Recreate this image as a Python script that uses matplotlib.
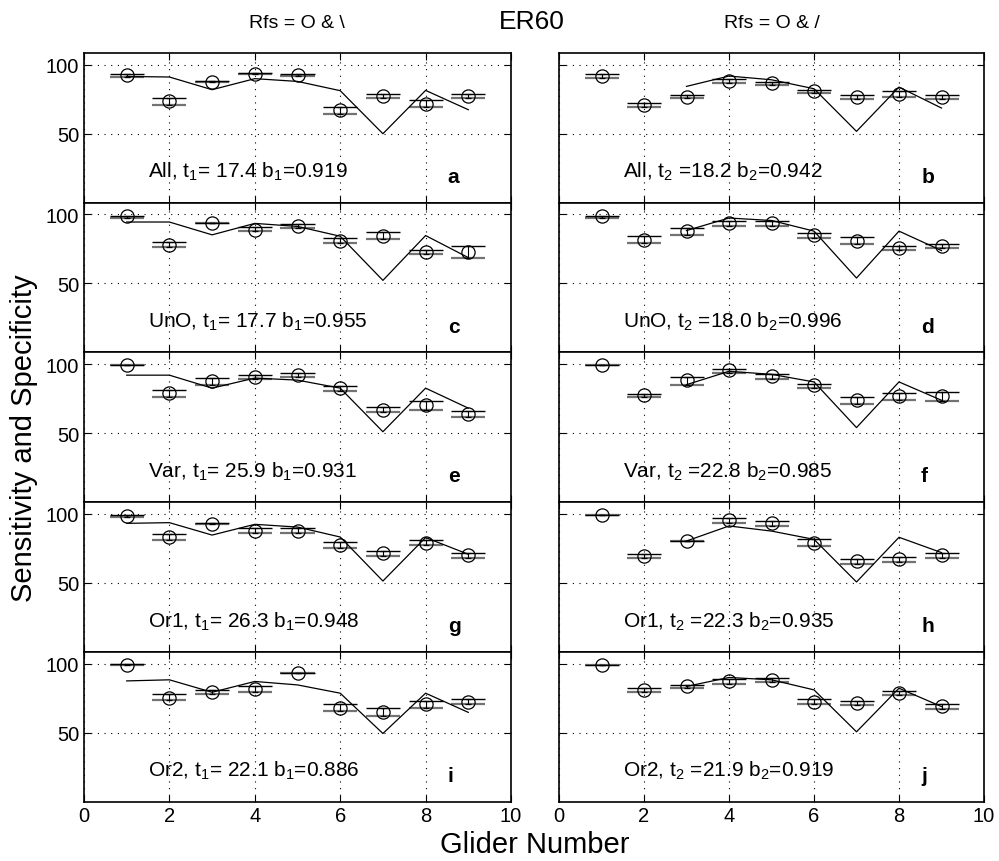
import numpy as np
import matplotlib
matplotlib.use('Agg')
import matplotlib.pyplot as plt

plt.rcParams['font.family'] = ['Liberation Sans', 'DejaVu Sans']
plt.rcParams['mathtext.default'] = 'regular'

gliders = np.arange(1, 10)

# rows: All, UnO, Var, Or1, Or2
names = ['All', 'UnO', 'Var', 'Or1', 'Or2']
t1 = [17.4, 17.7, 25.9, 26.3, 22.1]
b1 = [0.919, 0.955, 0.931, 0.948, 0.886]
t2 = [18.2, 18.0, 22.8, 22.3, 21.9]
b2 = [0.942, 0.996, 0.985, 0.935, 0.919]
letters_left = ['a', 'c', 'e', 'g', 'i']
letters_right = ['b', 'd', 'f', 'h', 'j']

# left column (Rfs = O & \)
circ_left = [
    [92.2, 73.4, 87.4, 93.5, 92.2, 66.9, 77.3, 71.7, 77.3],
    [98.8, 77.9, 93.7, 88.8, 91.5, 81.0, 84.7, 73.0, 73.0],
    [99.5, 78.8, 87.5, 90.8, 92.3, 82.6, 66.9, 70.3, 63.8],
    [98.4, 83.2, 92.9, 87.5, 87.5, 77.4, 71.4, 78.6, 69.9],
    [99.1, 75.3, 79.2, 81.6, 93.1, 68.0, 65.1, 70.7, 72.4],
]
hi_left = [
    [93.5, 75.8, 88.2, 94.0, 93.3, 69.3, 78.8, 74.1, 78.6],
    [98.5, 79.9, 93.7, 90.8, 92.7, 82.7, 87.2, 74.5, 77.0],
    [99.6, 81.4, 89.6, 92.2, 93.3, 84.3, 68.6, 73.0, 65.7],
    [99.0, 85.6, 93.0, 89.5, 89.5, 79.6, 73.0, 80.8, 71.4],
    [99.3, 77.7, 80.9, 83.8, 93.2, 70.4, 67.5, 73.1, 74.1],
]
lo_left = [
    [91.1, 71.0, 87.6, 93.6, 92.1, 64.5, 76.1, 69.6, 76.1],
    [97.4, 76.2, 93.5, 87.9, 90.4, 79.5, 82.1, 71.1, 68.7],
    [99.3, 75.9, 85.0, 89.1, 90.8, 80.7, 65.0, 66.9, 61.4],
    [97.5, 80.8, 92.8, 86.4, 86.4, 75.5, 69.4, 77.2, 68.3],
    [98.9, 73.6, 78.0, 79.2, 93.0, 65.5, 61.9, 68.0, 70.7],
]
line_left = [
    [91.5, 91.1, 81.9, 89.9, 87.9, 81.2, 50.0, 81.4, 67.4],
    [94.5, 94.5, 85.2, 93.5, 91.3, 84.2, 52.2, 84.7, 68.7],
    [92.0, 92.0, 82.6, 89.9, 88.4, 82.6, 51.0, 82.6, 68.1],
    [93.1, 93.6, 84.6, 92.4, 90.4, 83.2, 51.3, 82.8, 70.7],
    [87.4, 88.2, 79.2, 87.0, 84.5, 78.5, 49.3, 78.5, 64.6],
]

# right column (Rfs = O & /), model line only from glider 3 on
circ_right = [
    [91.8, 71.0, 76.8, 88.2, 86.7, 80.7, 76.8, 79.0, 76.6],
    [98.8, 81.8, 87.9, 93.7, 93.7, 85.2, 81.0, 75.7, 77.4],
    [99.6, 77.4, 88.3, 95.5, 91.2, 84.7, 74.3, 77.0, 77.0],
    [98.9, 69.4, 80.3, 95.3, 93.1, 78.6, 65.8, 67.0, 69.9],
    [99.1, 80.9, 83.4, 87.0, 87.7, 72.4, 71.2, 79.0, 69.2],
]
hi_right = [
    [93.0, 72.5, 78.0, 89.4, 87.5, 81.4, 78.2, 80.7, 78.2],
    [98.5, 84.7, 90.3, 95.5, 95.5, 86.4, 84.0, 77.4, 78.8],
    [99.7, 78.6, 90.7, 96.7, 92.6, 85.9, 76.2, 79.3, 79.9],
    [99.0, 70.7, 80.5, 97.2, 94.8, 81.5, 67.5, 69.0, 71.9],
    [99.2, 82.6, 84.5, 88.7, 89.4, 74.3, 72.8, 80.4, 70.7],
]
lo_right = [
    [90.4, 69.4, 75.8, 87.0, 85.1, 79.5, 74.8, 76.6, 74.8],
    [97.6, 79.1, 85.4, 91.9, 91.5, 83.0, 78.6, 74.5, 75.4],
    [99.5, 76.2, 85.1, 93.8, 89.5, 82.8, 70.9, 73.8, 73.3],
    [98.8, 68.3, 80.2, 93.1, 91.2, 76.7, 63.4, 65.1, 68.3],
    [99.0, 79.2, 82.1, 85.3, 86.3, 70.7, 69.9, 77.2, 67.0],
]
line_right_x = np.arange(3, 10)
line_right = [
    [84.3, 91.8, 89.1, 82.6, 51.7, 83.8, 68.6],
    [88.3, 97.4, 95.6, 87.9, 53.9, 87.9, 73.8],
    [85.1, 94.8, 92.6, 87.1, 54.0, 87.1, 73.8],
    [80.3, 91.2, 87.5, 81.5, 50.6, 83.0, 71.9],
    [83.4, 89.9, 88.2, 80.9, 50.5, 82.1, 68.8],
]


def draw_panel(ax, circ, hi, lo, lx, ly, label, letter, show_y, show_x):
    circ = np.array(circ)
    hi = np.array(hi)
    lo = np.array(lo)
    ax.hlines(lo, gliders - 0.4, gliders + 0.4, color='0.45', lw=1.6, zorder=2)
    ax.hlines(hi, gliders - 0.4, gliders + 0.4, color='k', lw=1.0, zorder=3)
    up = np.clip(np.maximum(hi, lo) - circ, 0, None)
    dn = np.clip(circ - np.minimum(hi, lo), 0, None)
    ax.errorbar(gliders, circ, yerr=[dn, up], fmt='o', mfc='none', mec='k',
                ms=9.5, mew=0.9, ecolor='k', elinewidth=0.8, capsize=2,
                capthick=0.8, zorder=4)
    ax.plot(lx, ly, 'k-', lw=0.9, zorder=3)
    ax.text(1.5, 18.5, label, fontsize=15, va='baseline', ha='left')
    ax.text(8.52, 15.0, letter, fontsize=15, fontweight='bold',
            va='baseline', ha='left')
    ax.set_xlim(0, 10)
    ax.set_ylim(0, 108.5)
    ax.set_xticks([0, 2, 4, 6, 8, 10])
    ax.set_yticks([50, 100])
    ax.grid(True, color='k', linestyle=(0, (1, 5)), linewidth=0.8)
    ax.tick_params(direction='in', top=True, right=True, length=5,
                   labelsize=14.5, labelleft=show_y, labelbottom=show_x)
    for s in ax.spines.values():
        s.set_linewidth(1.2)


fig = plt.figure(figsize=(9.99, 8.62), dpi=100)

W, H = 999.0, 862.0
top_px = 54.0
row_px = 149.7
for i in range(5):
    bottom = 1 - (top_px + (i + 1) * row_px) / H
    height = row_px / H
    axl = fig.add_axes([84 / W, bottom, 427 / W, height])
    axr = fig.add_axes([559 / W, bottom, 425 / W, height])
    draw_panel(axl, circ_left[i], hi_left[i], lo_left[i], gliders, line_left[i],
               '%s, t$_1$= %.1f b$_1$=%.3f' % (names[i], t1[i], b1[i]),
               letters_left[i], True, i == 4)
    draw_panel(axr, circ_right[i], hi_right[i], lo_right[i], line_right_x,
               line_right[i],
               '%s, t$_2$ =%.1f b$_2$=%.3f' % (names[i], t2[i], b2[i]),
               letters_right[i], False, i == 4)

fig.text(297 / W, 1 - 24 / H, 'Rfs = O & \\', fontsize=14, ha='center', va='center')
fig.text(772 / W, 1 - 24 / H, 'Rfs = O & /', fontsize=14, ha='center', va='center')
fig.text(532 / W, 1 - 22 / H, 'ER60', fontsize=19, ha='center', va='center')
fig.text(535 / W, 1 - 845 / H, 'Glider Number', fontsize=21, ha='center', va='center')
fig.text(24 / W, 1 - 438 / H, 'Sensitivity and Specificity', fontsize=21,
         ha='center', va='center', rotation=90)

fig.savefig('out.png', dpi=100)
